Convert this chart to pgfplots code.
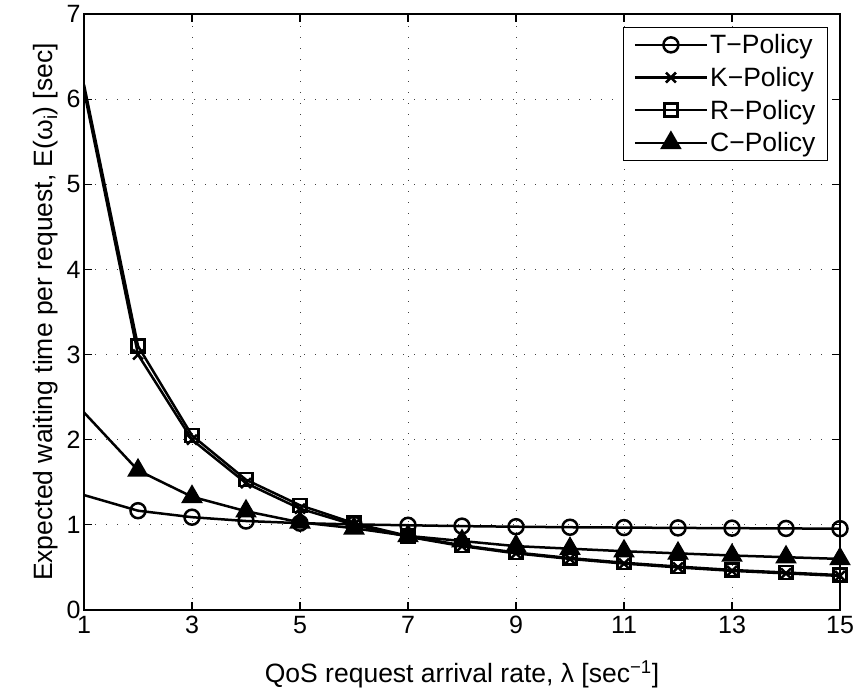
\documentclass[border=0pt]{standalone}
\usepackage{fontspec}
\setmainfont{Liberation Sans}
\usepackage{pgfplots}
\pgfplotsset{compat=1.18}
\begin{document}
\begin{tikzpicture}
\begin{axis}[
  scale only axis,
  width=756bp, height=596bp,
  xmin=1, xmax=15, ymin=0, ymax=7,
  xtick={1,3,...,15}, ytick={0,...,7},
  tick align=inside,
  major tick length=8bp,
  axis line style={line width=1.3bp},
  tick style={line width=1.1bp, black},
  grid=major,
  major grid style={dash pattern=on 1.2bp off 9.8bp, line width=1bp, black!75},
  /pgf/number format/assume math mode=true,
  ticklabel style={font=\fontsize{25bp}{30bp}\selectfont},
  xticklabel style={yshift=-3bp},
  yticklabel style={xshift=0bp},
  label style={font=\fontsize{26.5bp}{31bp}\selectfont},
  xlabel={QoS request arrival rate, λ [sec\textsuperscript{−1}]},
  ylabel={Expected waiting time per request, E(ω\textsubscript{i}) [sec]},
  xlabel style={yshift=-20bp},
  ylabel style={yshift=2bp},
  legend style={at={(1,1)}, xshift=-12bp, yshift=-13bp, anchor=north east,
     font=\fontsize{26.5bp}{31bp}\selectfont, draw=black, line width=1.1bp,
     inner xsep=10bp, inner ysep=5bp, row sep=8bp},
  /tikz/every even column/.append style={column sep=8bp},
  legend cell align=left,
  legend image code/.code={\draw[mark repeat=2,mark phase=2,#1] plot coordinates {(0bp,0bp) (36bp,0bp) (72bp,0bp)};},
]
% segments from x=1 to x=2 (no markers)
\addplot[forget plot, black, line width=2.5bp] coordinates {(1,1.35) (2,1.166)};
\addplot[forget plot, black, line width=2.5bp] coordinates {(1,6.10) (2,3.00)};
\addplot[forget plot, black, line width=2.5bp] coordinates {(1,6.17) (2,3.10)};
\addplot[forget plot, black, line width=2.5bp] coordinates {(1,2.32) (2,1.64)};
% T-Policy
\addplot[black, line width=2.5bp, mark=o, mark size=7.5bp] coordinates {
(2,1.166) (3,1.09) (4,1.045) (5,1.02) (6,1.005) (7,0.995) (8,0.985) (9,0.978)
(10,0.972) (11,0.968) (12,0.964) (13,0.961) (14,0.958) (15,0.955)};
% K-Policy
\addplot[black, line width=2.5bp, mark=x, mark size=7bp] coordinates {
(2,3.00) (3,2.00) (4,1.49) (5,1.19) (6,1.00) (7,0.86) (8,0.75) (9,0.665)
(10,0.60) (11,0.545) (12,0.50) (13,0.46) (14,0.43) (15,0.40)};
% R-Policy
\addplot[black, line width=2.5bp, mark=square, mark size=6.5bp] coordinates {
(2,3.10) (3,2.05) (4,1.53) (5,1.23) (6,1.02) (7,0.87) (8,0.76) (9,0.675)
(10,0.61) (11,0.555) (12,0.51) (13,0.47) (14,0.44) (15,0.41)};
% C-Policy
\addplot[black, line width=2.5bp, mark=triangle*, mark size=10bp] coordinates {
(2,1.64) (3,1.33) (4,1.16) (5,1.03) (6,0.96) (7,0.87) (8,0.81) (9,0.75)
(10,0.72) (11,0.69) (12,0.665) (13,0.64) (14,0.62) (15,0.60)};
\legend{T−Policy, K−Policy, R−Policy, C−Policy}
\end{axis}
\pgfresetboundingbox
\path (current axis.south west) ++(-84bp,-83bp) coordinate (bl);
\path (current axis.north east) ++(19bp,14bp) coordinate (tr);
\path[use as bounding box] (bl) rectangle (tr);
\end{tikzpicture}
\end{document}
